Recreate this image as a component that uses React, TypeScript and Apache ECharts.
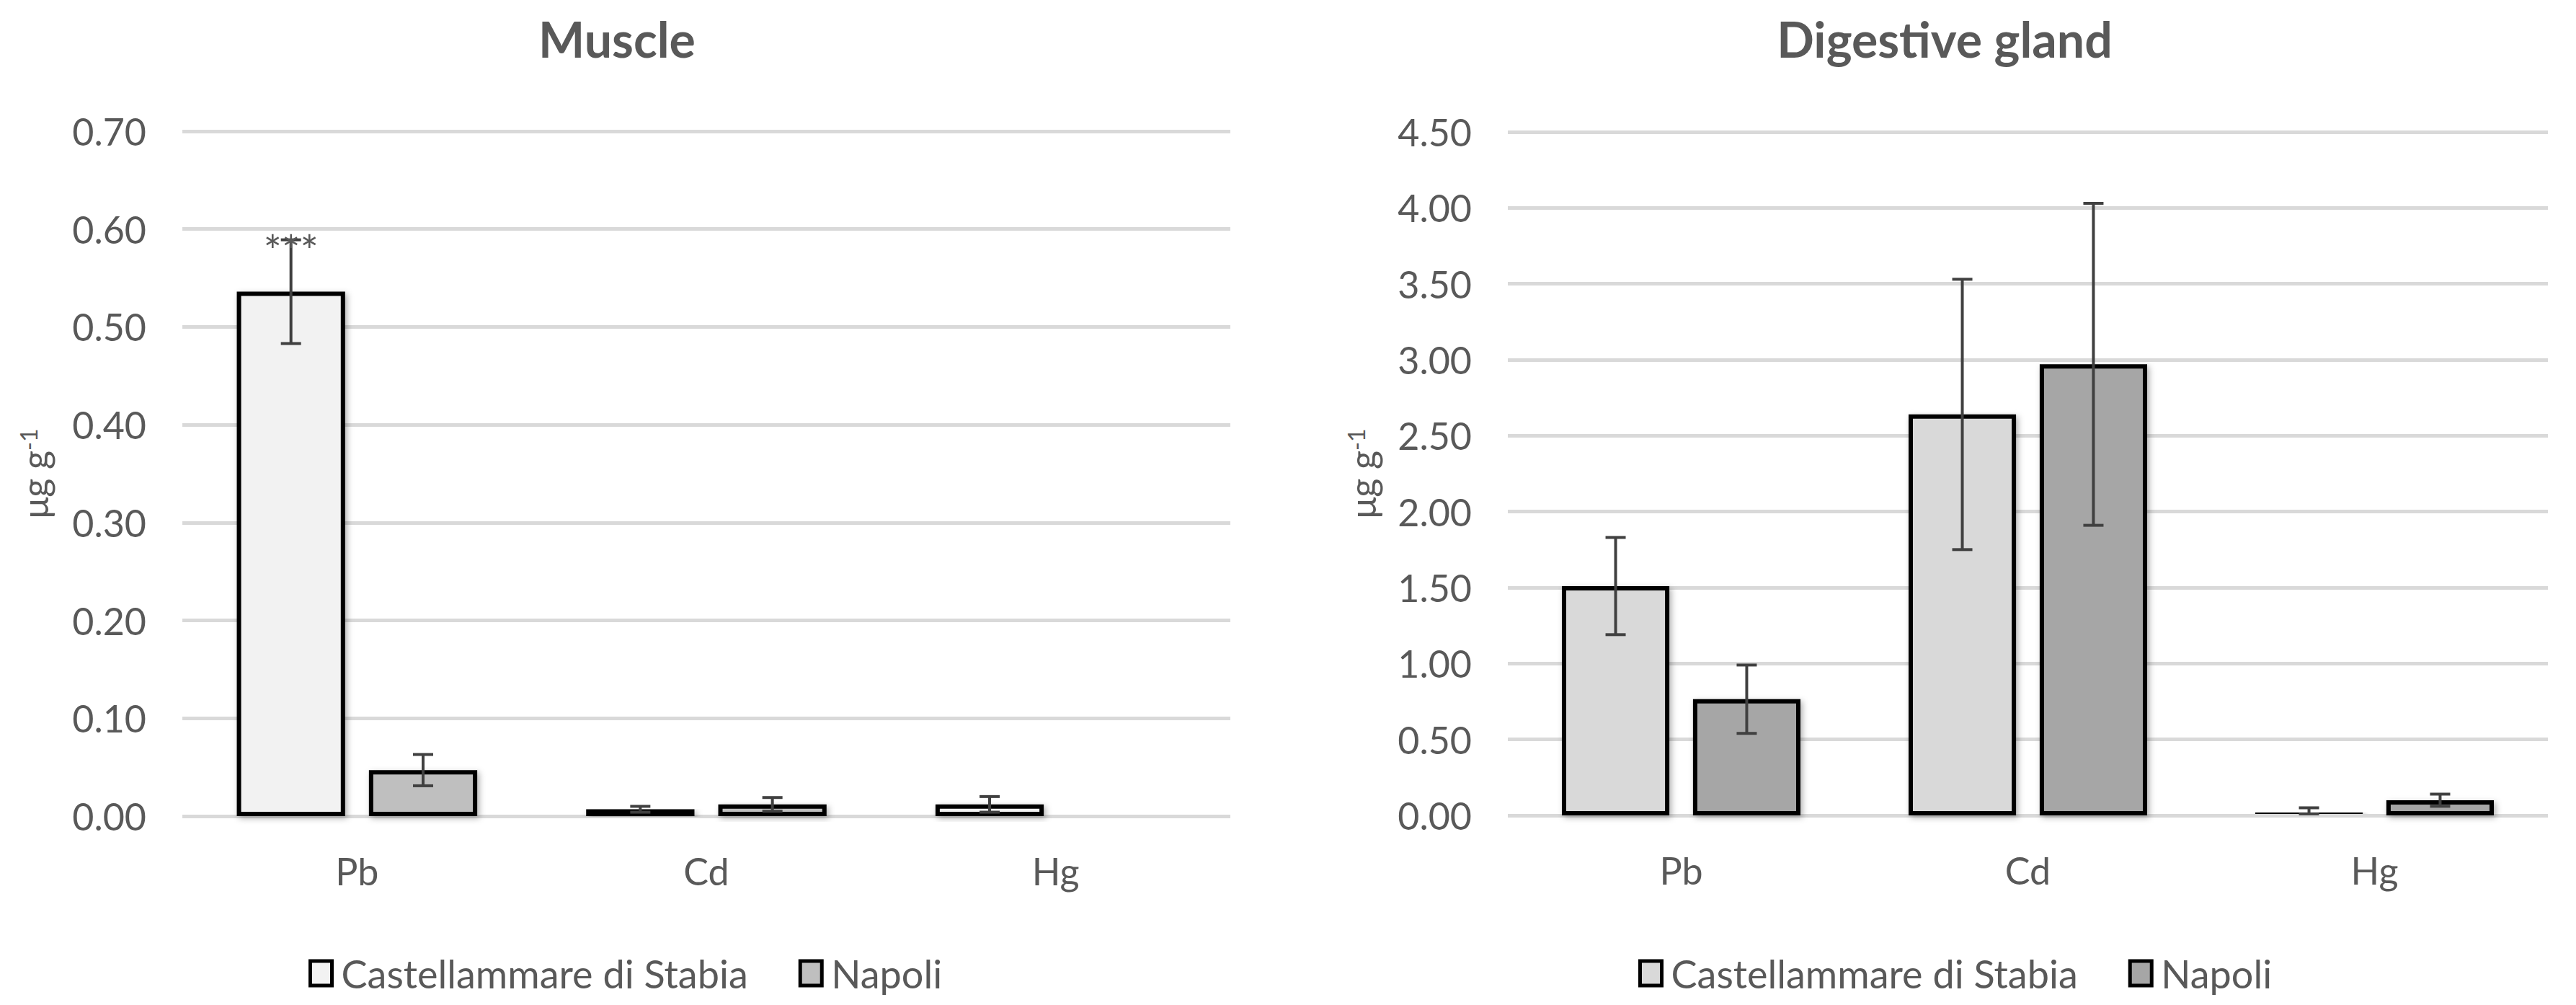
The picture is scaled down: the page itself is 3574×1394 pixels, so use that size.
import React, { useEffect, useRef } from "react";
import * as echarts from "echarts";

const categories = ["Pb", "Cd", "Hg"];
const seriesNames = ["Castellammare di Stabia", "Napoli"];

const muscleCastellammare = [0.536, 0.007, 0.012];
const muscleCastellammareSd = [0.053, 0.003, 0.008];
const muscleNapoli: (number | null)[] = [0.047, 0.012, null];
const muscleNapoliSd: (number | null)[] = [0.016, 0.007, null];
const muscleCastellammareNotes = ["***", "", ""];
const muscleNapoliNotes = ["", "", ""];

const glandCastellammare = [1.51, 2.64, 0.03];
const glandCastellammareSd = [0.32, 0.89, 0.02];
const glandNapoli = [0.765, 2.97, 0.1];
const glandNapoliSd = [0.225, 1.06, 0.04];
const glandNotes = ["", "", ""];

const muscleAxis = { max: 0.7, step: 0.1 };
const glandAxis = { max: 4.5, step: 0.5 };

const FONT = "Lato";
const TEXT = "#595959";
const BAR_W = 0.31;
const BAR_GAP = 0.22;

type PanelCfg = {
  title: string;
  titleX: number;
  grid: { left: number; right: number; top: number; bottom: number };
  axis: { max: number; step: number };
  colors: string[];
  values: (number | null)[][];
  sds: (number | null)[][];
  notes: string[][];
  legendLeft: number;
  nameGap: number;
  labelMargin: number;
};

function buildOption(cfg: PanelCfg) {
  const series: any[] = [];
  cfg.values.forEach((vals, si) => {
    series.push({
      name: seriesNames[si],
      type: "bar",
      data: vals,
      barWidth: BAR_W * 100 + "%",
      barGap: BAR_GAP * 100 + "%",
      itemStyle: {
        color: cfg.colors[si],
        borderColor: "#000000",
        borderWidth: 6,
        shadowBlur: 8,
        shadowColor: "rgba(0,0,0,0.30)",
        shadowOffsetX: 3,
        shadowOffsetY: 3,
      },
      silent: true,
      z: 2,
    });
  });
  cfg.values.forEach((vals, si) => {
    const offsetFactor = ((si === 0 ? -1 : 1) * BAR_W * (1 + BAR_GAP)) / 2;
    const data: any[] = [];
    vals.forEach((v, ci) => {
      const sd = cfg.sds[si][ci];
      if (v == null || sd == null) return;
      data.push({ value: [ci, v, sd], note: cfg.notes[si][ci] });
    });
    series.push({
      type: "custom",
      coordinateSystem: "cartesian2d",
      silent: true,
      z: 5,
      data,
      encode: { x: 0, y: 1 },
      renderItem: (params: any, api: any) => {
        const ci = api.value(0);
        const v = api.value(1);
        const sd = api.value(2);
        const band = api.size([1, 0])[0];
        const hi = api.coord([ci, v + sd]);
        const lo = api.coord([ci, v - sd]);
        const x = hi[0] + offsetFactor * band;
        const cap = 14;
        const style = { stroke: "#404040", lineWidth: 4 };
        const children: any[] = [
          { type: "line", shape: { x1: x, y1: hi[1], x2: x, y2: lo[1] }, style },
          { type: "line", shape: { x1: x - cap, y1: hi[1], x2: x + cap, y2: hi[1] }, style },
          { type: "line", shape: { x1: x - cap, y1: lo[1], x2: x + cap, y2: lo[1] }, style },
        ];
        const note = data[params.dataIndex].note;
        if (note) {
          children.push({
            type: "text",
            x,
            y: hi[1] + 14,
            style: {
              text: note,
              fill: TEXT,
              font: `60px ${FONT}`,
              align: "center",
              verticalAlign: "middle",
            },
          });
        }
        return { type: "group", children };
      },
    });
  });

  return {
    animation: false,
    backgroundColor: "#ffffff",
    title: {
      text: cfg.title,
      left: cfg.titleX,
      textAlign: "center",
      top: 14,
      textStyle: { fontFamily: FONT, fontSize: 68, fontWeight: "bold", color: TEXT },
    },
    legend: {
      left: cfg.legendLeft,
      top: 1315,
      icon: "rect",
      itemWidth: 30,
      itemHeight: 34,
      itemGap: 70,
      data: seriesNames,
      selectedMode: false,
      itemStyle: { borderWidth: 5, borderColor: "#000000", shadowBlur: 0, shadowOffsetX: 0, shadowOffsetY: 0 },
      textStyle: {
        fontFamily: FONT,
        fontSize: 54,
        color: TEXT,
        padding: [0, 0, 0, 8],
        lineHeight: 60,
      },
    },
    grid: { ...cfg.grid, containLabel: false },
    xAxis: {
      type: "category",
      data: categories,
      axisLine: { show: false },
      axisTick: { show: false },
      axisLabel: { fontFamily: FONT, fontSize: 52, color: TEXT, margin: cfg.labelMargin },
    },
    yAxis: {
      type: "value",
      min: 0,
      max: cfg.axis.max,
      interval: cfg.axis.step,
      name: "{m|μg g}{s|-1}",
      nameLocation: "middle",
      nameGap: cfg.nameGap,
      nameRotate: 90,
      nameTextStyle: {
        fontFamily: FONT,
        color: TEXT,
        rich: {
          m: { fontFamily: FONT, fontSize: 50, color: TEXT },
          s: { fontFamily: FONT, fontSize: 32, color: TEXT, verticalAlign: "top", padding: [0, 0, 18, 0] },
        },
      },
      axisLine: { show: false },
      axisTick: { show: false },
      axisLabel: {
        fontFamily: FONT,
        fontSize: 52,
        color: TEXT,
        margin: 50,
        formatter: (v: number) => v.toFixed(2),
      },
      splitLine: { show: true, lineStyle: { color: "#d9d9d9", width: 5 } },
    },
    series,
  };
}

const panels: PanelCfg[] = [
  {
    title: "Muscle",
    titleX: 851,
    grid: { left: 253, right: 80, top: 182, bottom: 262 },
    axis: muscleAxis,
    colors: ["#f2f2f2", "#bfbfbf"],
    values: [muscleCastellammare, muscleNapoli],
    sds: [muscleCastellammareSd, muscleNapoliSd],
    notes: [muscleCastellammareNotes, muscleNapoliNotes],
    legendLeft: 423,
    nameGap: 180,
    labelMargin: 50,
  },
  {
    title: "Digestive gland",
    titleX: 906,
    grid: { left: 305, right: 39, top: 183, bottom: 263 },
    axis: glandAxis,
    colors: ["#d9d9d9", "#a6a6a6"],
    values: [glandCastellammare, glandNapoli],
    sds: [glandCastellammareSd, glandNapoliSd],
    notes: [glandNotes, glandNotes],
    legendLeft: 481,
    nameGap: 177,
    labelMargin: 50,
  },
];

function Panel({ cfg }: { cfg: PanelCfg }) {
  const ref = useRef<HTMLDivElement>(null);
  useEffect(() => {
    if (!ref.current) return;
    const chart = echarts.init(ref.current, undefined, { renderer: "svg" });
    chart.setOption(buildOption(cfg) as any);
    return () => chart.dispose();
  }, [cfg]);
  return <div ref={ref} style={{ width: 1787, height: 1394 }} />;
}

export default function App() {
  return (
    <div
      style={{
        position: "fixed",
        left: 0,
        top: 0,
        width: 3574,
        height: 1394,
        display: "flex",
        background: "#ffffff",
      }}
    >
      {panels.map((p) => (
        <Panel key={p.title} cfg={p} />
      ))}
    </div>
  );
}
